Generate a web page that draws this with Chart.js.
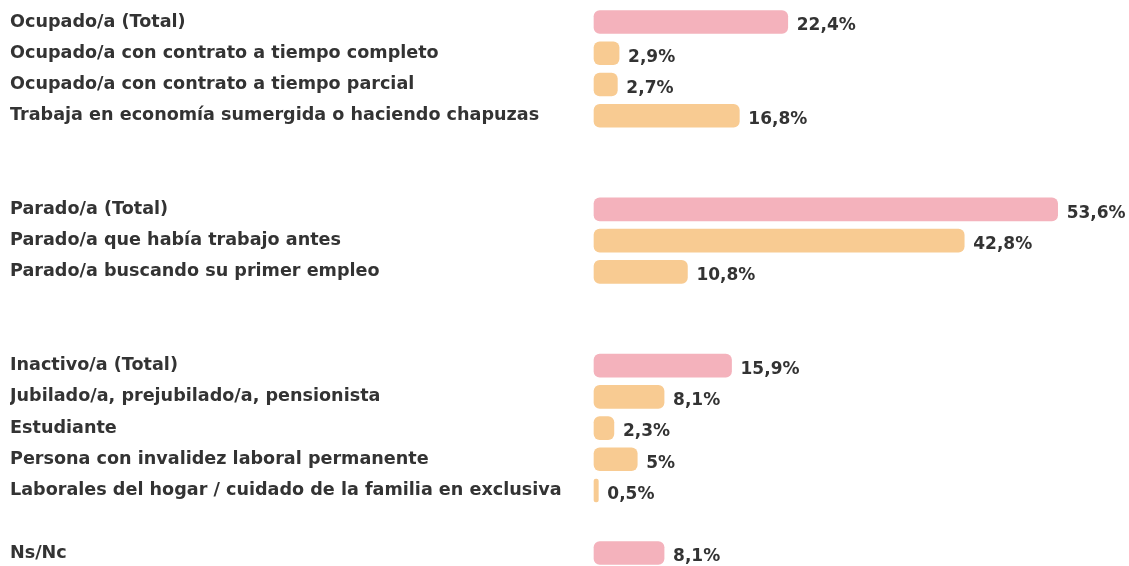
<!DOCTYPE html>
<html>
<head>
<meta charset="utf-8">
<script src="https://cdn.jsdelivr.net/npm/chart.js@4.4.1/dist/chart.umd.min.js"></script>
<style>
  html, body { margin: 0; padding: 0; background: #fff; }
  #wrap { width: 1129px; height: 566px; }
</style>
</head>
<body>
<div id="wrap"><canvas id="myChart"></canvas></div>
<script>
// empty strings are spacer rows between groups
const categorias = [
  'Ocupado/a (Total)',
  'Ocupado/a con contrato a tiempo completo',
  'Ocupado/a con contrato a tiempo parcial',
  'Trabaja en economía sumergida o haciendo chapuzas',
  '', '',
  'Parado/a (Total)',
  'Parado/a que había trabajo antes',
  'Parado/a buscando su primer empleo',
  '', '',
  'Inactivo/a (Total)',
  'Jubilado/a, prejubilado/a, pensionista',
  'Estudiante',
  'Persona con invalidez laboral permanente',
  'Laborales del hogar / cuidado de la familia en exclusiva',
  '',
  'Ns/Nc'
];
const valores = [22.4, 2.9, 2.7, 16.8, null, null, 53.6, 42.8, 10.8, null, null, 15.9, 8.1, 2.3, 5, 0.5, null, 8.1];
const esTotal = [true, false, false, false, false, false, true, false, false, false, false, true, false, false, false, false, false, true];

const rosa = '#f4b2bc';
const melocoton = '#f8cb92';
const FUENTE = '"DejaVu Sans", sans-serif';

const etiquetasValor = {
  id: 'etiquetasValor',
  afterDatasetsDraw(chart) {
    const ctx = chart.ctx;
    const meta = chart.getDatasetMeta(0);
    ctx.save();
    ctx.font = 'bold 17px ' + FUENTE;
    ctx.fillStyle = '#333333';
    ctx.textAlign = 'left';
    ctx.textBaseline = 'middle';
    meta.data.forEach((bar, i) => {
      const v = valores[i];
      if (v === null) return;
      const txt = v.toLocaleString('es-ES') + '%';
      ctx.fillText(txt, bar.x + 9, bar.y + 4);
    });
    ctx.restore();
  }
};

const ctx = document.getElementById('myChart');

new Chart(ctx, {
  type: 'bar',
  data: {
    labels: categorias,
    datasets: [{
      data: valores,
      backgroundColor: esTotal.map(t => t ? rosa : melocoton),
      borderRadius: 6,
      borderSkipped: false,
      barThickness: 23,
      clip: false
    }]
  },
  options: {
    indexAxis: 'y',
    responsive: true,
    maintainAspectRatio: false,
    animation: false,
    layout: { padding: { left: 10, top: 22, bottom: 13, right: 16 } },
    plugins: {
      legend: { display: false },
      tooltip: { enabled: false }
    },
    scales: {
      x: {
        display: false,
        min: 0,
        max: 60,
        grid: { display: false }
      },
      y: {
        offset: false,
        grid: { display: false },
        border: { display: false },
        ticks: {
          crossAlign: 'far',
          autoSkip: false,
          padding: 0,
          color: '#333333',
          font: { family: FUENTE, size: 17.6, weight: 'bold' }
        },
        afterFit(scale) { scale.width = 584; }
      }
    }
  },
  plugins: [etiquetasValor]
});
</script>
</body>
</html>
